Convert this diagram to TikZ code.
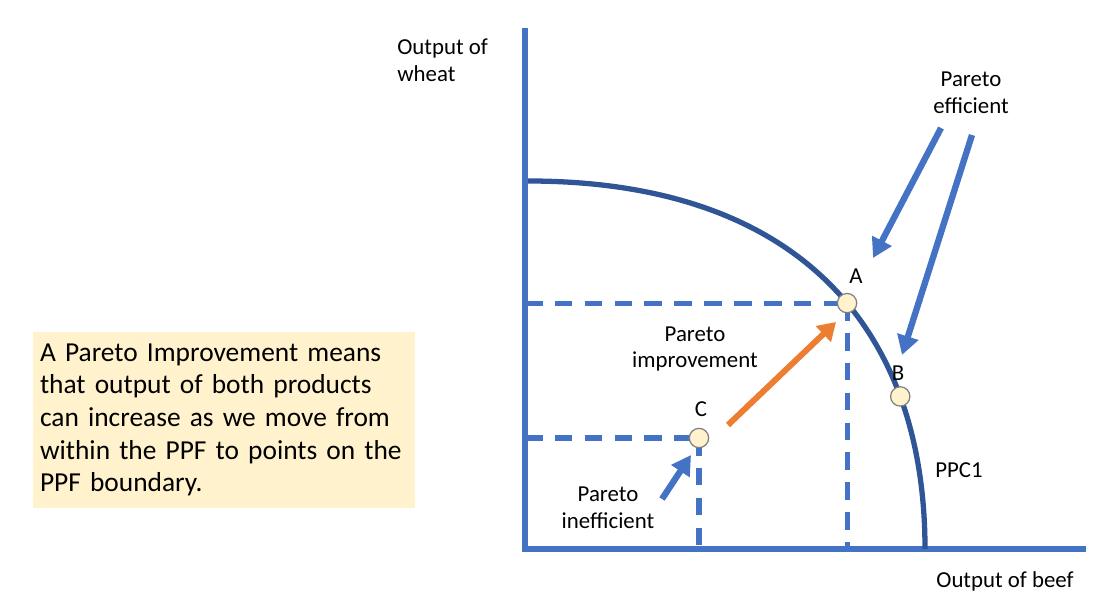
\documentclass[tikz,border=0pt]{standalone}
\usepackage{fontspec}
\setmainfont{Carlito}
\usetikzlibrary{arrows.meta}
\definecolor{axisblue}{HTML}{4472C4}
\definecolor{curveblue}{HTML}{2F5597}
\definecolor{gainorange}{HTML}{ED7D31}
\definecolor{notecream}{HTML}{FFF2CC}
\definecolor{dotrim}{HTML}{7F7F7F}
\newcommand\notefont{\fontsize{15.6}{18.6}\selectfont\fontdimen2\font=2.6pt\relax}
\begin{document}
\begin{tikzpicture}[x=0.02cm, y=-0.02cm,
    axis/.style={draw=axisblue, line width=2.9pt},
    guide/.style={draw=axisblue, line width=2.9pt, dash pattern=on 10pt off 7pt},
    ppc/.style={draw=curveblue, line width=3pt},
    dot/.style={circle, draw=dotrim, line width=0.7pt, fill=notecream,
      minimum size=11pt, inner sep=0pt},
    lbl/.style={font=\fontsize{13}{15.3}\selectfont, align=center, inner sep=0pt},
    note/.style={fill=notecream, minimum width=7.64cm, minimum height=3.52cm,
      text width=7.36cm, inner xsep=0.14cm, align=left, font=\notefont},
    pointer/.style={draw=axisblue, line width=3.6pt, -{Triangle[length=11pt,width=12pt]}},
    gain/.style={draw=gainorange, line width=3.4pt, -{Triangle[length=10pt,width=12pt]}}]
  \useasboundingbox (0,0) rectangle (1105,614);
  %
  % axes
  \coordinate (O) at (525,549);
  \coordinate (ytop) at (525,28);
  \coordinate (xend) at (1086,549);
  \draw[axis] (ytop) -- (O) -- (xend);
  \node[lbl, anchor=west, align=left] (ylab) at (397,60) {Output of\\wheat};
  \node[lbl] (xlab) at (1005,581) {Output of beef};
  %
  % production possibility curve
  \draw[ppc] (528,181) .. controls (800,181) and (925,330) .. (925,549)
    coordinate[pos=0.55] (a) coordinate[pos=0.745] (b);
  \node[lbl] (ppclab) at (959,470) {PPC1};
  %
  % dashed guides to the axes
  \coordinate (c) at (699,438);
  \draw[guide] (a -| O) -- (a);
  \draw[guide] (a) -- (a |- O);
  \draw[guide] (c -| O) -- (c);
  \draw[guide] (c) -- (c |- O);
  %
  % points
  \node[dot] (A) at (a) {};
  \node[dot] (B) at (b) {};
  \node[dot] (C) at (c) {};
  \node[lbl] (labA) at (856,276) {A};
  \node[lbl] (labB) at (898,373) {B};
  \node[lbl] (labC) at (701,409) {C};
  %
  % pointers
  \node[lbl] (efflab) at (971,93) {Pareto\\efficient};
  \coordinate (effA) at (941,128);
  \coordinate (effAtip) at (873,258);
  \coordinate (effB) at (972,135);
  \coordinate (effBtip) at (902,355);
  \draw[pointer] (effA) -- (effAtip);
  \draw[pointer] (effB) -- (effBtip);
  %
  \node[lbl] (ineflab) at (608,508) {Pareto\\inefficient};
  \coordinate (inef) at (662,499);
  \coordinate (ineftip) at (691,455);
  \draw[pointer] (inef) -- (ineftip);
  %
  \node[lbl] (implab) at (695,349) {Pareto\\improvement};
  \coordinate (imp) at (728,425);
  \coordinate (imptip) at (836,322);
  \draw[gain] (imp) -- (imptip);
  %
  % explanation box
  \node[note] (expl) at (224,420) {A Pareto Improvement means\\
    that output of both products\\
    can increase as we move from\\
    within the PPF to points on the\\
    PPF boundary.};
\end{tikzpicture}
\end{document}
